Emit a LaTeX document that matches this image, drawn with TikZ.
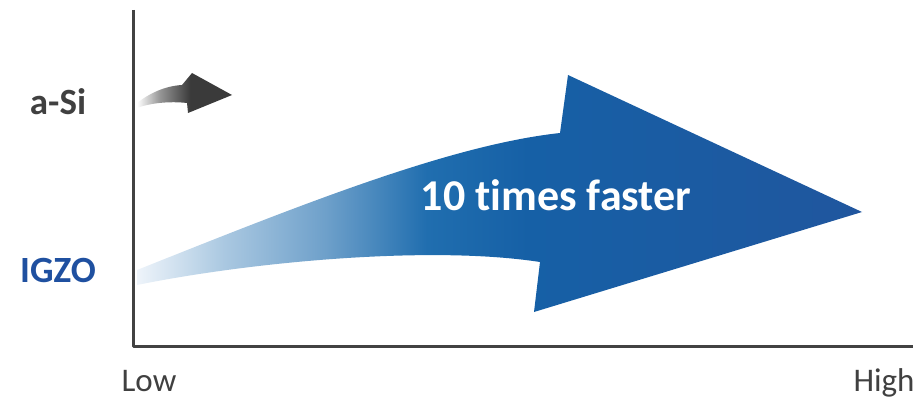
\documentclass[tikz,border=0pt]{standalone}
\usepackage{fontspec}
\setmainfont{Carlito}[Ligatures=NoCommon]
\usetikzlibrary{positioning}
\usepackage{xcolor}
\definecolor{axisgray}{RGB}{66,66,66}
\definecolor{labelgray}{RGB}{64,64,64}
\definecolor{igzoblue}{RGB}{31,80,160}
\definecolor{fadeone}{RGB}{238,244,250}
\definecolor{fadetwo}{RGB}{170,200,225}
\definecolor{fadethree}{RGB}{110,160,202}
\definecolor{fadefour}{RGB}{32,110,175}
\definecolor{fadefive}{RGB}{22,96,166}
\definecolor{fadesix}{RGB}{32,86,158}
\definecolor{asimid}{RGB}{150,150,150}
\definecolor{asidark}{RGB}{58,58,58}
\pgfdeclarehorizontalshading{igzofade}{100bp}{color(0bp)=(fadeone); color(25bp)=(fadeone);
  color(31bp)=(fadetwo); color(38bp)=(fadethree); color(45bp)=(fadefour);
  color(52bp)=(fadefive); color(75bp)=(fadesix); color(100bp)=(fadesix)}
\pgfdeclarehorizontalshading{asifade}{100bp}{color(0bp)=(white); color(25bp)=(white);
  color(37bp)=(asimid); color(53bp)=(asidark); color(75bp)=(asidark); color(100bp)=(asidark)}

\begin{document}
\begin{tikzpicture}[
    x=1pt, y=-1pt,
    axisline/.style={line width=3pt, draw=axisgray, line join=round},
    rowlabel/.style={anchor=base, inner sep=0pt, font=\fontsize{37}{40}\selectfont\bfseries},
    ticklabel/.style={anchor=base, inner sep=0pt, text=labelgray, font=\fontsize{33}{36}\selectfont},
    bigtext/.style={anchor=base, inner sep=0pt, text=white, font=\fontsize{44}{48}\selectfont\bfseries}
]
\useasboundingbox (0,0) rectangle (920,398);

% Axes
\coordinate (top) at (133,10);
\coordinate (origin) at (133,346);
\coordinate (right) at (913,346);
\draw[axisline] (top) -- (origin) -- (right);

% Row labels
\node[rowlabel, text=labelgray] (asi) at (58,115) {a-Si};
\node[rowlabel, text=igzoblue] (igzo) at (58,282) {IGZO};

% Scale labels
\node[ticklabel] (low) at (149,391) {Low};
\node[ticklabel] (high) at (884,391) {High};

% a-Si arrow
\shade[shading=asifade] (137,103) .. controls (150,93) and (165,86) .. (182,85)
    -- (192,73) -- (232,95) -- (188,113) -- (187,103)
    .. controls (170,101) and (150,103) .. (137,108) -- cycle;

% IGZO arrow
\shade[shading=igzofade] (137,270) .. controls (300,205) and (450,145) .. (560,133)
    -- (568,75) -- (862,212) -- (534,312) -- (540,262)
    .. controls (430,245) and (250,262) .. (137,285) -- cycle;
\node[bigtext] (speed) at (556,210) {10 times faster};

\end{tikzpicture}
\end{document}
